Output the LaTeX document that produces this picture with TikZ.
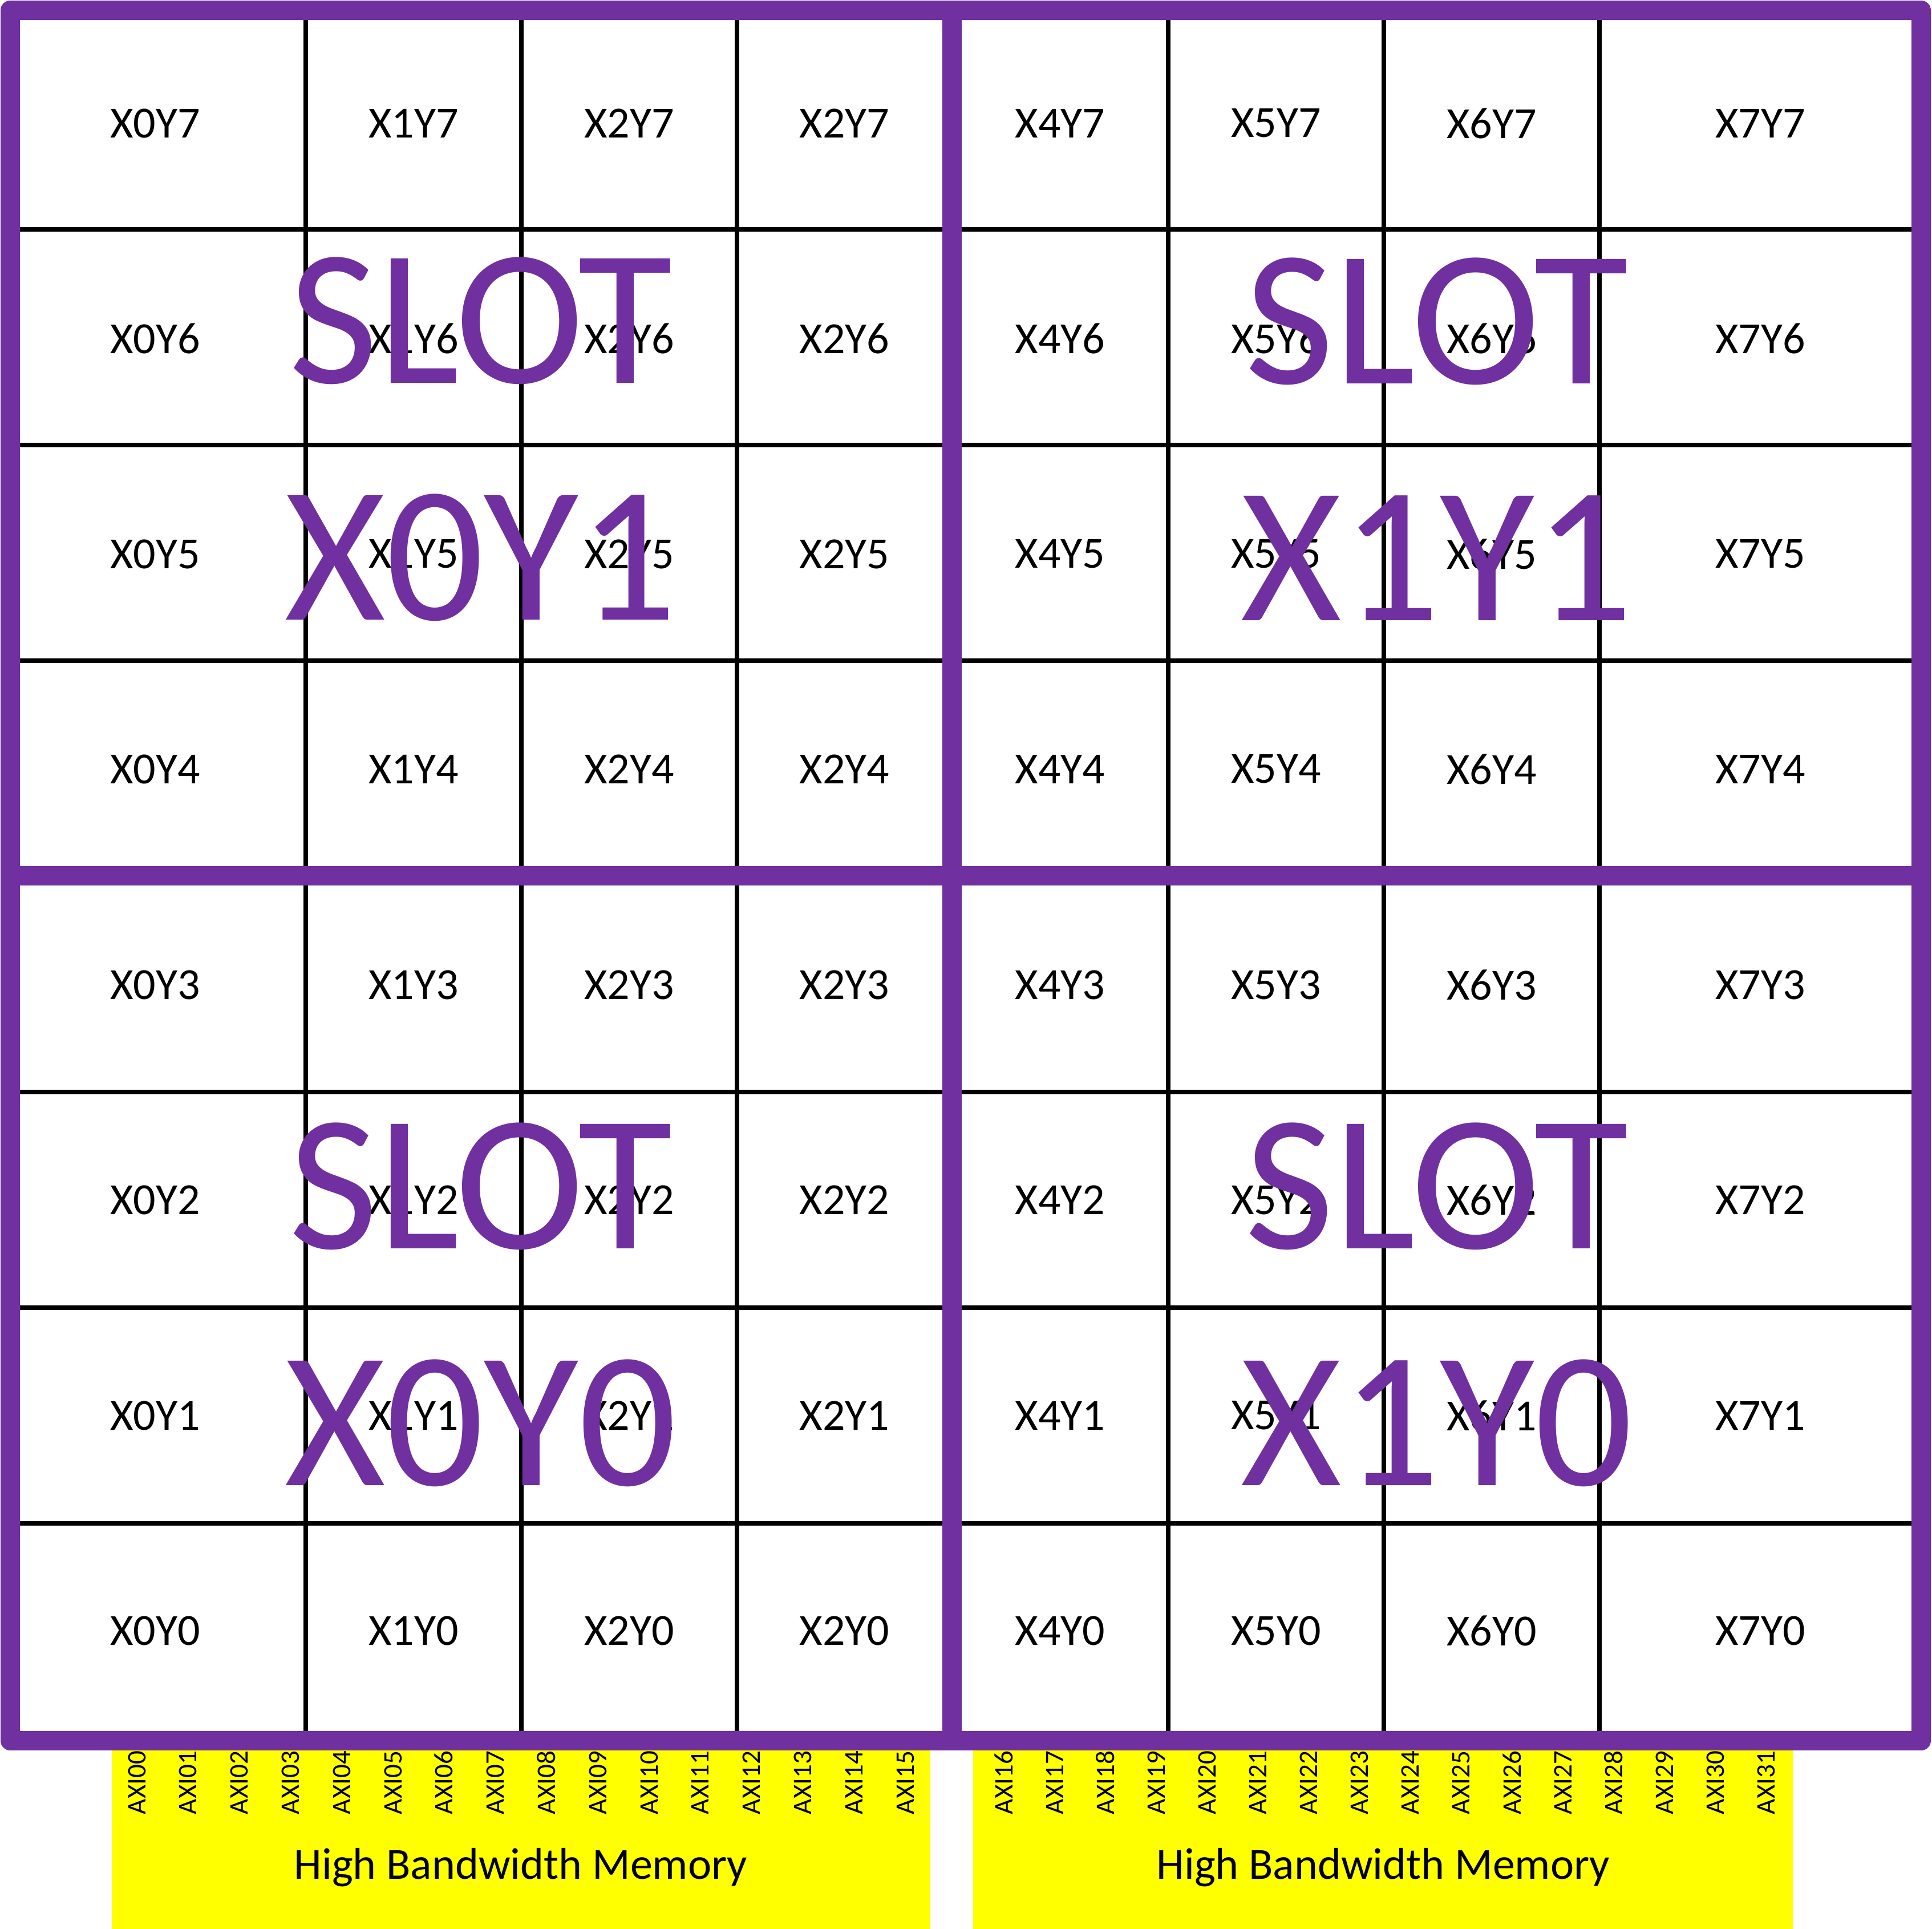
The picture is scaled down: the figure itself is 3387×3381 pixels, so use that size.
\documentclass[tikz,border=0pt]{standalone}
\usepackage{fontspec}
\setmainfont{Carlito}
\definecolor{slotpurple}{HTML}{7030A0}
\definecolor{hbmyellow}{HTML}{FFFF00}
\begin{document}
\begin{tikzpicture}[x=0.2pt,y=-0.2pt,
  gridline/.style={line width=1.6pt,draw=black},
  slotframe/.style={draw=slotpurple,line width=6.8pt,line join=round},
  cell/.style={font=\fontsize{15.6}{19}\selectfont,inner sep=0pt},
  slotlabel/.style={font=\fontsize{68}{83}\selectfont,text=slotpurple,align=center,inner sep=0pt},
  axi/.style={font=\fontsize{9.4}{11}\selectfont,rotate=90,anchor=base west,inner sep=0pt},
  hbmlabel/.style={font=\fontsize{15.6}{19}\selectfont,anchor=base,inner sep=0pt}]

\useasboundingbox[fill=white] (0,0) rectangle (3387,3381);

% HBM blocks
\fill[hbmyellow] (196,3051) rectangle (1631,3381);
\fill[hbmyellow] (1706,3051) rectangle (3143,3381);

% grid
\foreach \x in {536,914,1292,2048,2426,2804}
  \draw[gridline] (\x,18) -- (\x,3051);
\foreach \y in {402,780,1158,1914,2292,2670}
  \draw[gridline] (18,\y) -- (3368,\y);

% slot frames
\draw[slotframe] (18,18) rectangle (1669,1535);
\draw[slotframe] (1669,18) rectangle (3368,1535);
\draw[slotframe] (18,1535) rectangle (1669,3051);
\draw[slotframe] (1669,1535) rectangle (3368,3051);

% cell labels
\foreach \c/\cx/\lab in {0/272/X0,1/725/X1,2/1103/X2,3/1480.5/X2,4/1858.5/X4,5/2237/X5,6/2615/X6,7/3086/X7}
  \foreach \r/\cy in {7/216,6/593,5/971,4/1348,3/1726,2/2103,1/2481,0/2858}
    \node[cell] (c\c r\r) at (\cx,\cy) {\lab Y\r};

% slot labels
\node[slotlabel] (s01) at (843,770) {SLOT\\X0Y1};
\node[slotlabel] (s11) at (2519,770) {SLOT\\X1Y1};
\node[slotlabel] (s00) at (843,2287) {SLOT\\X0Y0};
\node[slotlabel] (s10) at (2519,2287) {SLOT\\X1Y0};

% AXI ports
\foreach \i in {0,...,15}
  \node[axi] (axi\i) at (255+89.8*\i,3181) {AXI\ifnum\i<10 0\fi\i};
\foreach \i in {16,...,31}
  \node[axi] (axi\i) at (1775+89.1*\i-1425.6,3181) {AXI\i};

% HBM labels
\node[hbmlabel] (hbm0) at (913,3293) {High Bandwidth Memory};
\node[hbmlabel] (hbm1) at (2425,3293) {High Bandwidth Memory};
\end{tikzpicture}
\end{document}
